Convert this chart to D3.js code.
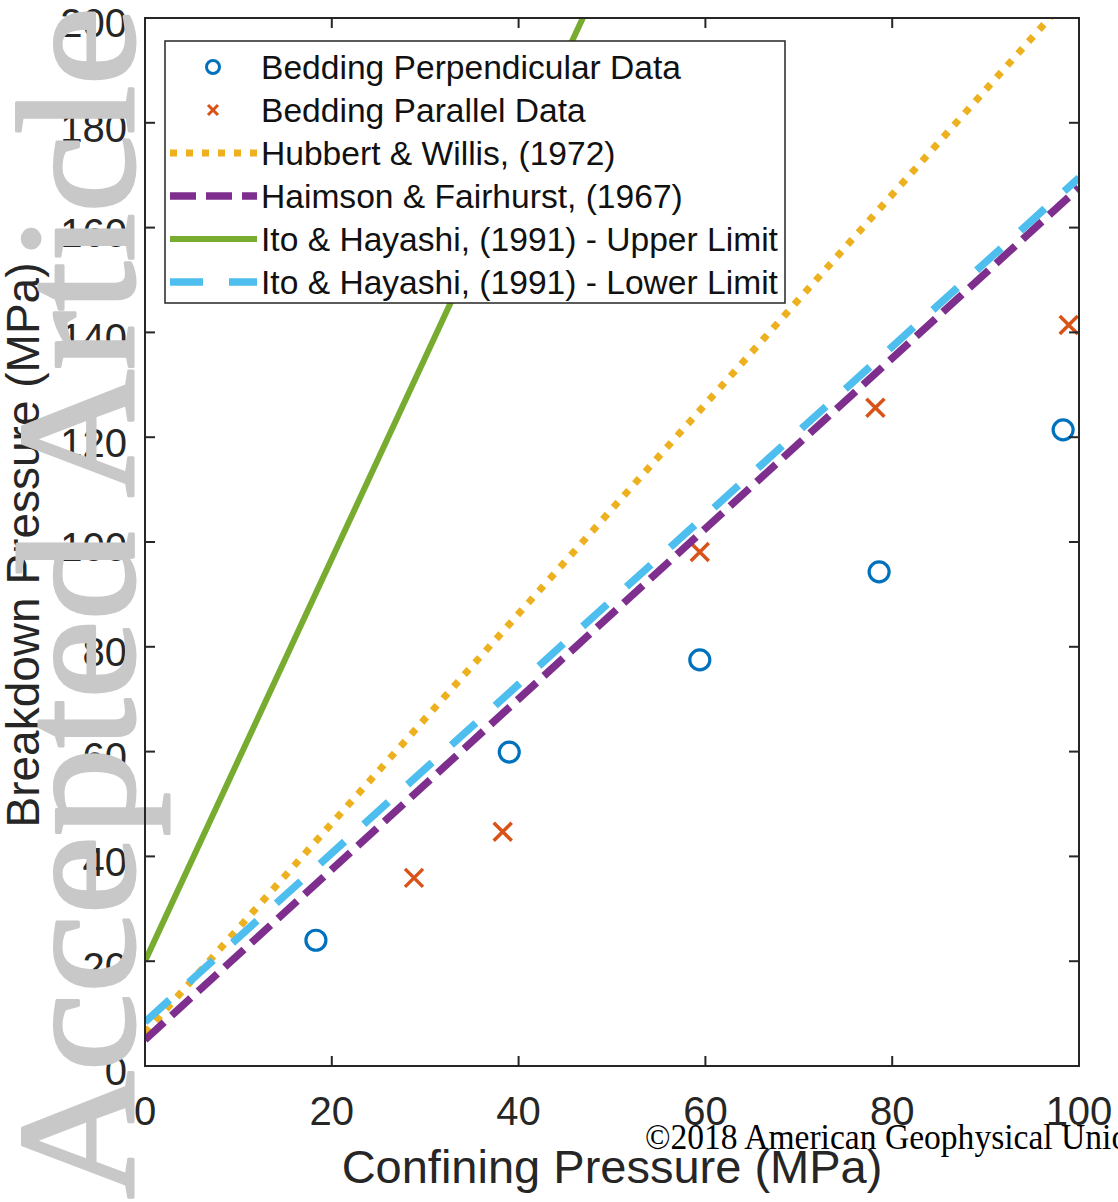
<!DOCTYPE html>
<html><head><meta charset="utf-8">
<script src="https://cdn.jsdelivr.net/npm/d3@7"></script>
<style>body{margin:0;background:#fff}svg{display:block}</style>
</head><body>
<svg id="c" width="1118" height="1202"></svg>
<script>
// ---- data ----
const perpX = [18.3, 39.0, 59.4, 78.6, 98.3];
const perpY = [24.0, 59.9, 77.5, 94.3, 121.4];
const paraX = [28.8, 38.3, 59.4, 78.2, 98.9];
const paraY = [35.9, 44.7, 98.1, 125.6, 141.4];
const hubbertX = [0, 100];
const hubbertY = [6.3, 206.3];
const haimsonX = [0, 100];
const haimsonY = [5.0, 167.6];
const itoUpperX = [0, 100];
const itoUpperY = [20, 404];
const itoLowerX = [0, 100];
const itoLowerY = [8.4, 169.5];
const xTicks = [0, 20, 40, 60, 80, 100];
const yTicks = [0, 20, 40, 60, 80, 100, 120, 140, 160, 180, 200];
const legendLabels = [
  "Bedding Perpendicular Data",
  "Bedding Parallel Data",
  "Hubbert & Willis, (1972)",
  "Haimson & Fairhurst, (1967)",
  "Ito & Hayashi, (1991) - Upper Limit",
  "Ito & Hayashi, (1991) - Lower Limit"
];
const xLabel = "Confining Pressure (MPa)";
const yLabel = "Breakdown Pressure (MPa)";
const watermark = "Accepted Article";
const copyright = "\u00A92018 American Geophysical Union";

// ---- layout ----
const L = 145, T = 18, R = 1079, B = 1066;
const axisColor = "#262626";
const font = "'Liberation Sans', Arial, Helvetica, sans-serif";
const colors = {
  perp: "#0072BD", para: "#D95319", hub: "#EDB120",
  hai: "#7E2F8E", up: "#77AC30", low: "#4DBEEE"
};
const styles = [
  null, null,
  {color: colors.hub, width: 7, dash: "7,9"},
  {color: colors.hai, width: 7.5, dash: "26,10"},
  {color: colors.up, width: 6, dash: null},
  {color: colors.low, width: 7.5, dash: "33,26"}
];

const svg = d3.select("#c");
const x = d3.scaleLinear().domain([0, 100]).range([L, R]);
const y = d3.scaleLinear().domain([0, 200]).range([B, T]);

svg.append("defs").append("clipPath").attr("id", "clip")
  .append("rect").attr("x", L).attr("y", T).attr("width", R - L).attr("height", B - T);

const plot = svg.append("g").attr("clip-path", "url(#clip)");

// markers
function circleMark(g, cx, cy, r, sw) {
  g.append("circle").attr("cx", cx).attr("cy", cy).attr("r", r)
    .attr("fill", "none").attr("stroke", colors.perp).attr("stroke-width", sw);
}
function crossMark(g, cx, cy, h, sw) {
  g.append("path")
    .attr("d", `M${cx-h},${cy-h}L${cx+h},${cy+h}M${cx-h},${cy+h}L${cx+h},${cy-h}`)
    .attr("stroke", colors.para).attr("stroke-width", sw).attr("fill", "none");
}
perpX.forEach((v, i) => circleMark(plot, x(v), y(perpY[i]), 10, 3.2));
paraX.forEach((v, i) => crossMark(plot, x(v), y(paraY[i]), 9, 3.5));

const line = d3.line().x(d => x(d[0])).y(d => y(d[1]));
const lineSets = [
  [hubbertX, hubbertY, styles[2]],
  [haimsonX, haimsonY, styles[3]],
  [itoUpperX, itoUpperY, styles[4]],
  [itoLowerX, itoLowerY, styles[5]]
];
lineSets.forEach(([xs, ys, s]) => {
  plot.append("path").datum(xs.map((v, i) => [v, ys[i]]))
    .attr("d", line).attr("fill", "none")
    .attr("stroke", s.color).attr("stroke-width", s.width)
    .attr("stroke-dasharray", s.dash);
});

// tick labels
svg.append("g").selectAll("text").data(yTicks).join("text")
  .attr("x", L - 18).attr("y", d => y(d) + 5).attr("dy", "0.358em")
  .attr("text-anchor", "end").attr("font-family", font).attr("font-size", 40)
  .attr("fill", axisColor).text(d => d);
svg.append("g").selectAll("text").data(xTicks).join("text")
  .attr("x", d => x(d)).attr("y", 1111).attr("dy", "0.358em")
  .attr("text-anchor", "middle").attr("font-family", font).attr("font-size", 40)
  .attr("fill", axisColor).text(d => d);

// axis labels
svg.append("text").attr("x", 612).attr("y", 1183)
  .attr("text-anchor", "middle").attr("font-family", font).attr("font-size", 47)
  .attr("fill", axisColor).text(xLabel);
svg.append("text").attr("transform", "translate(39,545) rotate(-90)")
  .attr("text-anchor", "middle").attr("font-family", font).attr("font-size", 46)
  .attr("fill", axisColor).text(yLabel);

// watermark
svg.append("text").attr("transform", "translate(133,1199) rotate(-90)")
  .attr("font-family", "'Liberation Serif', 'Times New Roman', serif")
  .attr("font-size", 168).attr("fill", "#c8c8c8")
  .attr("stroke", "#c8c8c8").attr("stroke-width", 3).attr("stroke-linejoin", "round")
  .attr("textLength", 1192).attr("lengthAdjust", "spacingAndGlyphs")
  .text(watermark);

// axes box and ticks
const ax = svg.append("g").attr("stroke", axisColor).attr("stroke-width", 2).attr("fill", "none");
ax.append("rect").attr("x", L).attr("y", T).attr("width", R - L).attr("height", B - T);
xTicks.forEach(v => {
  ax.append("line").attr("x1", x(v)).attr("x2", x(v)).attr("y1", B).attr("y2", B - 10);
  ax.append("line").attr("x1", x(v)).attr("x2", x(v)).attr("y1", T).attr("y2", T + 10);
});
yTicks.forEach(v => {
  ax.append("line").attr("x1", L).attr("x2", L + 10).attr("y1", y(v)).attr("y2", y(v));
  ax.append("line").attr("x1", R).attr("x2", R - 10).attr("y1", y(v)).attr("y2", y(v));
});

// legend
const lg = svg.append("g");
lg.append("rect").attr("x", 165).attr("y", 41).attr("width", 620).attr("height", 262)
  .attr("fill", "#fff").attr("stroke", axisColor).attr("stroke-width", 1.5);
legendLabels.forEach((lab, i) => {
  const cy = 67 + 43 * i;
  if (i === 0) circleMark(lg, 213, cy, 6.5, 3);
  else if (i === 1) crossMark(lg, 213, cy, 5, 3);
  else {
    const s = styles[i];
    lg.append("line").attr("x1", 170).attr("x2", 257).attr("y1", cy).attr("y2", cy)
      .attr("stroke", s.color).attr("stroke-width", s.width).attr("stroke-dasharray", s.dash);
  }
  lg.append("text").attr("x", 261).attr("y", cy).attr("dy", "0.358em")
    .attr("font-family", font).attr("font-size", 33.6).attr("fill", "#111").text(lab);
});

// copyright
svg.append("text").attr("x", 645).attr("y", 1149)
  .attr("font-family", "'Liberation Serif', 'Times New Roman', serif")
  .attr("font-size", 35).attr("fill", "#000")
  .attr("textLength", 500).attr("lengthAdjust", "spacingAndGlyphs")
  .text(copyright);
</script>
</body></html>
